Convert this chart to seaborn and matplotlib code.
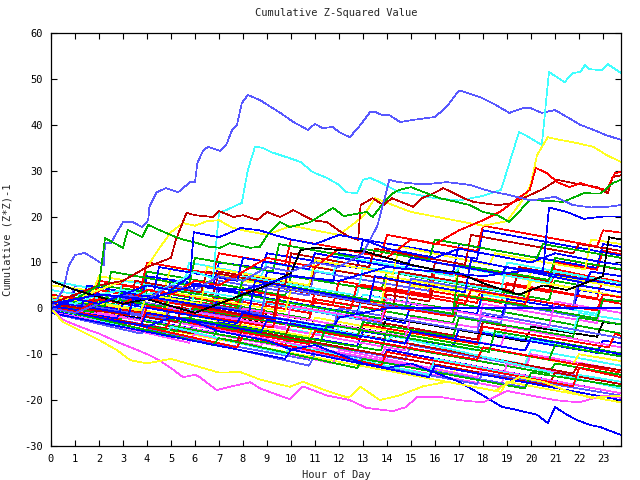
import numpy as np
import pandas as pd
import matplotlib
matplotlib.use("Agg")
import matplotlib.pyplot as plt
import seaborn as sns

# ---------------- data ----------------
title = "Cumulative Z-Squared Value"
xlabel = "Hour of Day"
ylabel = "Cumulative (Z*Z)-1"
xticks = list(range(24))
yticks = [-30, -20, -10, 0, 10, 20, 30, 40, 50, 60]

# bulk series: (hour, value) knots read/
red_series = [
    [(0,0.5),(2.75,-1.8),(3,1.5),(6.5,-1.8),(6.75,2.5),(10.75,-1),(11,3.5),(14.75,0.2),(15,4.5),(18.75,1.2),(19,5.5),(22.75,2.2),(23,6.5),(23.75,5.8)],
    [(0,0),(1,1.5),(5.75,-2.7),(6,1.5),(10.75,-2.5),(11,2),(13.75,-0.3),(14,4.5),(17.75,1.2),(18,6),(20.75,3.6),(21,8.5),(23.75,5.6)],
    [(0,-1),(2.75,-3.2),(3,-1),(7.75,-5.3),(8,-2),(12.75,-6.2),(13,-3.5),(17.75,-7.8),(18,-4),(23.25,-8.5),(23.5,-5.5),(23.75,-6)],
    [(0,2),(2.75,1.8),(3,5),(7.75,0.8),(8,4),(11.75,0.7),(12,6),(15.75,2.6),(16,8),(20.75,3.5),(21,10),(22.75,8.4),(23,12.5),(23.75,11.8)],
    [(0,0),(4.75,-4.4),(5,-2.5),(10.75,-7.8),(11,-5),(17.75,-11.2),(18,-8.5),(23.75,-14)],
    [(0,1),(1.75,-0.6),(2,4),(8.75,-2.3),(9,1.5),(13.75,-2.8),(14,0.5),(16.75,-1.8),(17,3),(19.75,0.8),(20,4.5),(23.75,1)],
    [(0,-0.5),(3.75,-3.8),(4,0.5),(9.25,-4.2),(9.5,2.5),(12.5,0),(12.75,5),(17.25,1),(17.5,4),(22.75,-0.5),(23,3),(23.75,2.4)],
    [(0,3),(1.75,1.5),(2,6),(3.75,4.5),(4,10),(6.75,7.5),(7,12),(9.75,9.5),(10,15),(13.75,11.5),(14,16),(17.75,12.5),(18,18),(22.75,13.5),(23,17),(23.75,16.5)],
    [(0,0.5),(7.75,-8.5),(8,-6),(13.75,-12.5),(14,-9.5),(21.75,-17),(22,-13),(23.75,-15)],
]
darkred_series = [
    [(0,0),(1,1),(3.75,-1.3),(4,3),(11.75,-4.3),(12,-1.5),(17.75,-6.8),(18,-3),(23.75,-8.5)],
    [(0,2),(4.75,-2.2),(5,0.5),(8.75,-2.7),(9,2),(13.75,-2.2),(14,3),(15.75,1.5),(16,5.5),(21.75,0.3),(22,4),(23.75,2.5)],
    [(0,-1),(1.75,-2.5),(2,1),(9.75,-6.2),(10,-3),(21.75,-14.2),(22,-12),(23.75,-13.5)],
    [(0,1),(0.75,0.5),(1,3),(2.75,1.8),(3,6),(6.75,2.8),(7,8),(10.75,4.8),(11,9),(15.75,4.8),(16,10),(20.75,5.8),(21,11),(23.75,8.4)],
    [(0,0),(7.75,-7.2),(8,-4.5),(20.75,-16.8),(21,-14),(23.75,-16.5)],
    [(0,1.5),(5.25,-3),(5.5,1),(9.25,-2.5),(9.5,4.5),(14.25,0),(14.5,8),(19.25,3.8),(19.5,9),(23.75,5)],
    [(0,1),(3.25,-1.5),(3.5,6),(6.25,3.5),(6.5,8),(9.75,5),(10,12),(13.25,9),(13.5,13),(17.25,9.5),(17.5,16),(21.75,12),(22,14),(23.75,12.5)],
]
green_series = [
    [(0,1),(1,2),(3.75,-0.2),(4,4),(10.75,-2.3),(11,2),(16.75,-3.2),(17,1),(23.75,-5.5)],
    [(0,0),(6.75,-6.3),(7,-4),(12.75,-9.2),(13,-7),(20.75,-14.2),(21,-12),(23.75,-14.5)],
    [(0,2),(1.75,0.8),(2,5),(3.75,3.8),(4,8),(9.75,2.8),(10,7),(13.75,3.8),(14,8),(20.75,1.8),(21,6),(23.75,3.5)],
    [(0,-1),(2.75,-3.2),(3,-2),(9.75,-8.2),(10,-6),(13.75,-9.2),(14,-5),(20.75,-11.2),(21,-8),(23.75,-10.5)],
    [(0,0),(1,1),(5.75,-3.2),(6,0),(12.75,-6.2),(13,-3),(16.75,-6.2),(17,-2),(21.75,-6.2),(22,-2),(23.75,-3.5)],
    [(0,3),(2.75,0.8),(3,4),(7.75,-0.2),(8,3),(13.75,-2.2),(14,2),(16.75,-0.2),(17,3),(22.75,-2.2),(23,2),(23.75,1.5)],
    [(0,0.5),(1.75,-0.8),(2,2.5),(4.75,0.3),(5,4),(7.75,1.8),(8,6.5),(16.75,-1.2),(17,9.5),(20.75,6.2),(21,11),(23.75,8.5)],
    [(0,-0.5),(5.25,-5),(5.5,-2),(11.25,-7),(11.5,-3.5),(18.25,-9.5),(18.5,-5),(23.75,-9.8)],
    [(0,2),(2.25,0.5),(2.5,8),(5.75,5),(6,11),(9.25,8),(9.5,14),(12.75,11),(13,13),(15.75,10.5),(16,15),(20.25,11),(20.5,14),(23.75,11)],
    [(0,0),(6.75,-8),(7,-6.5),(12.75,-13),(13,-11),(19.75,-17.5),(20,-14),(23.75,-17)],
]
blue_series = [
    [(0,0),(0.75,-0.5),(1,3),(4.75,-0.2),(5,6),(8.75,2.8),(9,8),(11.75,5.8),(12,12),(16.75,7.8),(17,14),(22.75,8.8),(23,14),(23.75,13.4)],
    [(0,1),(6.75,-5.2),(7,-3),(12.75,-8.2),(13,-5),(16.75,-8.2),(17,-4.5),(22.75,-9.7),(23,-7),(23.75,-7.6)],
    [(0,-1),(1.75,-2.2),(2,-1),(13.75,-12.2),(14,-9),(23.75,-18.5)],
    [(0,2),(2.75,-0.2),(3,4),(5.75,1.8),(6,5),(12.75,-1.2),(13,3),(18.75,-2.2),(19,2),(21.75,-0.2),(22,4),(23.75,2.5)],
    [(0,0),(1.75,-1.2),(2,2),(6.75,-2.2),(7,4),(14.75,-3.2),(15,1),(17.75,-1.2),(18,3.5),(21.75,0.3),(22,5),(23.75,3.5)],
    [(0,1),(0.75,0.5),(1,4),(3.75,1.8),(4,7),(6.75,4.8),(7,10),(8.75,8.8),(9,12),(12.75,8.8),(13,15),(17.75,10.8),(18,17),(23.75,11.5)],
    [(0,0),(2.75,-2.2),(3,1),(7.75,-3.2),(8,-1),(11.75,-4.2),(12,-2),(13,-1),(14,0),(23.75,0)],
    [(0,-0.5),(3.75,-3.7),(4,-1),(8.75,-5.2),(9,-2.5),(14.75,-7.7),(15,-5),(19.75,-9.2),(20,-6.5),(23.75,-10)],
    [(0,1.5),(3.25,-1.2),(3.5,3),(8.25,-1),(8.5,6),(13.25,1.5),(13.5,7),(17.25,3.5),(17.5,10.5),(22.25,5.5),(22.5,8),(23.75,7)],
    [(0,0.5),(1.25,-0.5),(1.5,5),(4.25,2.5),(4.5,9),(7.75,6),(8,11),(10.75,8.5),(11,12),(14.75,8.5),(15,11),(18.75,7.5),(19,9),(23.75,5)],
    [(0,-1),(9.75,-11),(10,-9),(15.75,-15),(16,-12.5),(23.75,-20)],
]
slate_series = [
    [(0,0),(5.75,-5.2),(6,-3),(14.75,-11.2),(15,-8),(23.75,-16.5)],
    [(0,1),(1.75,-0.2),(2,3),(7.75,-2.2),(8,2),(13.75,-3.2),(14,1),(18.75,-3.2),(19,1),(23.75,-3.5)],
    [(0,2),(0.75,1.5),(1,5),(6.75,-0.2),(7,6),(10.75,2.8),(11,8),(15.75,3.8),(16,10),(23.75,2.5)],
    [(0,-1),(10.75,-11.2),(11,-9),(19.75,-17.2),(20,-15),(23.75,-18.5)],
    [(0,0),(1,1),(4.75,-2.2),(5,2),(11.75,-4.2),(12,0),(17.75,-5.2),(18,-1),(23.75,-6.5)],
    [(0,1.5),(3.75,-1.7),(4,3),(8.75,-1.2),(9,5),(14.75,-0.2),(15,6.5),(21.75,0.3),(22,7),(23.75,5.5)],
    [(0,-1),(3.75,-5.5),(4,-4.5),(10.75,-12.5),(11,-10),(17.75,-16.5),(18,-14),(23.75,-19)],
]
magenta_series = [
    [(0,0),(8.75,-8.2),(9,-6),(13.75,-10.2),(14,-8),(19.75,-13.2),(20,-10),(23.75,-13.5)],
    [(0,-1),(2.75,-3.2),(3,-2),(6.75,-5.2),(7,-2),(14.75,-9.2),(15,-5),(18.75,-8.2),(19,-4),(23.75,-8.5)],
    [(0,1),(18.75,-17.2),(19,-12),(23.75,-16.5)],
    [(0,0),(1.75,-1.2),(2,2),(7.75,-3.2),(8,0),(14.75,-6.2),(15,-2),(17.75,-4.2),(18,1),(22.75,-3.2),(23,2),(23.75,1.5)],
    [(0,2),(15.75,-13.2),(16,-11),(23.75,-18.5)],
    [(0,0.5),(3.75,-2.7),(4,1),(9.75,-4.2),(10,0.5),(13.75,-2.7),(14,2),(20.75,-4.2),(21,1.5),(23.75,-1)],
    [(0,-0.5),(5.75,-7.5),(6,-5.5),(11.75,-12),(12,-9),(17.75,-15),(18,-13),(23.75,-18.5)],
]
cyan_series = [
    [(0,1),(4.75,-3.2),(5,0),(11.75,-6.2),(12,-4),(17.75,-9.2),(18,-5),(23.75,-10.5)],
    [(0,0),(1,2),(9.75,-6.2),(10,-3),(19.75,-12.2),(20,-9),(23.75,-12.5)],
    [(0,2),(2.75,-0.2),(3,3),(8.75,-2.2),(9,2),(14.75,-3.2),(15,1),(17.75,-1.2),(18,3),(22.75,-1.2),(23,2),(23.75,1.5)],
    [(0,6),(6,0.2),(6.25,1),(14,-7),(14.25,-6),(23.75,-17.5)],
    [(0,0),(2.75,-2.2),(3,1),(5.75,-1.2),(6,4),(12.75,-2.2),(13,3),(21.75,-5.2),(22,-1),(23.75,-2.5)],
    [(0,3),(3.75,-0.2),(4,5),(7.75,1.8),(8,7),(12.75,2.8),(13,9),(18.75,3.8),(19,10),(23.75,5.5)],
    [(0,4),(2.75,1.5),(3,6),(5.5,4),(5.75,10),(8.75,7),(9,10),(11.75,7.5),(12,11.5),(16.75,7),(17,9),(20.75,5.5),(21,8),(23.75,5.5)],
    [(0,0),(4.75,-6),(5,-4),(9.75,-10),(10,-8),(15.75,-14.5),(16,-11),(21.75,-17),(22,-14.5),(23.75,-16)],
]
yellow_series = [
    [(0,2),(16.75,-14.2),(17,-12),(23.75,-18.5)],
    [(0,0),(1,3),(10.75,-6.2),(11,-2),(21.75,-12.2),(22,-10),(23.75,-11.5)],
    [(0,1),(2.75,-1.2),(3,5),(7.75,0.8),(8,6),(14.75,-0.2),(15,5),(19.75,0.8),(20,6),(23.75,2.5)],
    [(0,5),(1.75,3.8),(2,7),(4.75,4.8),(5,9),(9.75,4.8),(10,10),(16.75,3.8),(17,9),(23.75,2.5)],
    [(0,0),(18.75,-18.2),(19,-16),(23.75,-20.5)],
    [(0,-0.5),(0.75,-1),(1,2),(4.75,-1.2),(5,3.5),(9.75,-0.7),(10,4),(13.75,0.8),(14,7),(19.75,1.8),(20,8),(23.75,4.5)],
    [(0,2.5),(3.75,-0.5),(4,3),(6.25,1),(6.5,9),(10.75,5),(11,10.5),(14.25,7.5),(14.5,13.5),(18.25,9.5),(18.5,12),(22.25,8.5),(22.5,15),(23.75,14)],
]
black_series = [
    [(0,1),(3.75,-2.2),(4,1),(8.75,-3.2),(9,-1),(13.75,-5.2),(14,-2),(19.75,-7.2),(20,-4),(22.75,-6.2),(23,-3),(23.75,-3.5)],
]

# prominent series read at finer resolution
slate_peak_x = [0, 0.5, 0.75, 1, 1.4, 1.9, 2.2, 2.25, 2.5, 2.75, 3, 3.4, 3.8, 4.05, 4.1, 4.4, 4.8, 5.3, 5.5, 5.8, 6.0, 6.1, 6.35, 6.55, 7.05, 7.3, 7.55, 7.75, 7.95, 8.2, 8.7, 9.55, 10.1, 10.7, 11.0, 11.3, 11.75, 12.0, 12.45, 12.9, 13.3, 13.5, 13.8, 14.1, 14.55, 15, 16, 16.5, 17, 17.3, 17.9, 18.4, 18.9, 19.1, 19.7, 19.95, 20.45, 21, 21.5, 22.05, 22.6, 23.1, 23.75]
slate_peak_y = [0, 4, 9.4, 11.6, 12.1, 10.5, 9.4, 14.2, 14.2, 16.6, 18.8, 18.8, 17.7, 19.2, 22.1, 25.3, 26.2, 25.3, 26.2, 27.5, 27.5, 31.7, 34.5, 35.2, 34.3, 35.6, 38.9, 40, 44.7, 46.5, 45.4, 42.6, 40.6, 38.9, 40.2, 39.3, 39.5, 38.4, 37.3, 40, 42.8, 42.8, 42.1, 42.1, 40.6, 41, 41.7, 44, 47.5, 47, 46, 44.7, 43.2, 42.6, 43.7, 43.7, 42.6, 43.2, 41.7, 40, 38.9, 37.8, 36.7]

cyan_jump_x = [0, 1, 2, 3, 4, 5, 6, 6.75, 7.0, 7.3, 7.95, 8.2, 8.5, 8.8, 9.2, 9.9, 10.4, 10.9, 11.5, 12.0, 12.3, 12.75, 13.0, 13.3, 13.7, 14.5, 15, 16, 17, 18, 18.75, 19.5, 19.75, 20.45, 20.75, 21.4, 21.75, 22.05, 22.25, 22.45, 22.95, 23.2, 23.75]
cyan_jump_y = [2, 1, 3, 4, 3, 5, 8, 6.5, 20.8, 21.4, 23, 30.1, 35.2, 35, 34, 32.8, 31.9, 29.7, 28.4, 26.9, 25.3, 25.1, 28, 28.4, 27.5, 25.3, 25, 24, 23.5, 24.5, 25.8, 38.4, 37.8, 35.6, 51.5, 49.3, 51.3, 51.5, 53, 52.1, 51.9, 53.2, 51.3]

yellow_top_x = [0, 1, 2, 3, 4, 4.5, 5, 5.5, 6, 6.5, 7, 7.5, 8, 9, 10, 11, 12, 13, 13.5, 14, 15, 16, 17, 18, 19, 19.8, 20.0, 20.25, 20.7, 21.2, 21.75, 22.6, 23.15, 23.75]
yellow_top_y = [1, 2, 4, 6, 9, 13, 16.6, 18.6, 18, 19, 19.2, 17.7, 17, 16, 18, 17, 16, 20, 24, 23, 21, 20, 19, 18, 19, 24.7, 27.3, 33.4, 37.3, 36.7, 36.2, 35.2, 33.4, 31.9]

darkred_top_x = [0, 1, 2, 3, 4, 5, 5.2, 5.65, 6, 6.75, 7.0, 7.6, 8.0, 8.6, 9.0, 9.55, 10.1, 10.5, 10.9, 11.5, 11.95, 12.45, 12.8, 12.9, 13.4, 13.85, 14.2, 15.1, 15.45, 15.8, 16.35, 17.2, 17.6, 18.6, 19.1, 19.8, 20.5, 21.1, 21.75, 22.75, 23.2, 23.4, 23.75]
darkred_top_y = [1, 3, 5, 6, 9, 11, 14.9, 20.8, 20.3, 19.9, 21.2, 19.9, 20.3, 19.3, 21, 19.9, 21.4, 20.3, 19.2, 18.8, 17.1, 15.5, 14.9, 22.5, 24, 22.5, 24, 22.1, 24, 24.7, 26.2, 24, 23.2, 22.5, 22.8, 24.3, 26, 28, 27.3, 26.4, 25.1, 28.6, 29]

red_top_x = [0, 1, 2, 3, 4, 5, 6, 7, 8, 9, 10, 11, 12, 13, 14, 15, 16, 17, 18, 18.7, 19.95, 20.2, 20.65, 21.1, 21.6, 22.05, 22.6, 23.15, 23.5, 23.75]
red_top_y = [0, -1, 2, 1, 4, 3, 6, 5, 8, 11, 10, 9, 13, 12, 11, 15, 14, 17, 19.2, 21, 25.8, 30.6, 29.5, 27.5, 26.4, 27.3, 26.4, 25.8, 29.5, 29.7]

green_top_x = [0, 1, 2, 2.25, 3, 3.2, 3.8, 4.05, 4.5, 5.3, 6.1, 6.6, 7.05, 7.45, 8.3, 8.7, 9.1, 9.55, 9.95, 10.8, 11.75, 12.2, 13.15, 13.4, 13.85, 14.25, 14.5, 15, 16.2, 16.9, 17.45, 18, 18.6, 19.1, 19.95, 20.7, 21.35, 22.2, 22.9, 23.4, 23.75]
green_top_y = [1, 2, 5, 15.3, 13.2, 17.1, 15.5, 18.2, 17.1, 15.3, 14.2, 13.4, 13.2, 14.2, 13.2, 13.4, 16.6, 18.8, 17.7, 18.8, 21.9, 20.1, 21, 19.9, 23, 25.1, 25.8, 26.4, 24, 23.2, 22.5, 21, 20.3, 18.8, 23.6, 23.4, 23.2, 25.1, 25, 27.3, 28]

blue_low_x = [0, 1, 2, 3, 4, 5, 6, 7, 8, 9, 10, 11, 12, 13, 14, 15, 16, 17, 18, 18.8, 19.3, 20.25, 20.7, 21, 21.5, 21.9, 22.45, 22.9, 23.2, 23.75]
blue_low_y = [0, -1, -2, -3, -4, -2, -3, -5, -6, -7, -9, -8, -10, -12, -13, -12, -14, -16, -19, -21.5, -22, -23.2, -25, -21.5, -23.2, -24.3, -25.4, -25.9, -26.5, -27.6]

magenta_low_x = [0, 0.5, 1.35, 2, 2.75, 3.6, 4.1, 4.5, 5.1, 5.5, 6.0, 6.2, 6.9, 7.45, 8.3, 8.7, 9.25, 9.95, 10.5, 11, 11.5, 12.45, 13.15, 14.25, 14.8, 15.25, 16.2, 17, 18, 19, 20, 21, 22, 23, 23.75]
magenta_low_y = [0, -2.5, -4.3, -5.5, -7.3, -9.1, -10.2, -11.3, -13.4, -15, -14.5, -15, -17.8, -17.1, -16.1, -17.4, -18.5, -19.8, -17, -18, -19, -20, -21.7, -22.4, -21.5, -19.3, -19.3, -20, -20.5, -18, -19, -20, -20.5, -19, -19.5]

black_mid_x = [0, 1, 2, 3, 4, 5, 6, 7, 8, 9, 10, 10.4, 11, 12, 13, 14, 15, 16, 17, 18, 18.6, 19.5, 20.5, 21.5, 22.5, 23, 23.25, 23.75]
black_mid_y = [6, 4, 2.5, 1, 2, 0.5, -1, 1, 3, 5, 7.7, 12.7, 13.2, 12.7, 12.5, 11, 9.5, 8.4, 7.7, 5.5, 4.4, 3, 5, 4, 6, 7, 15.5, 15]

yellow_low_x = [0, 0.5, 2, 2.75, 3.3, 4, 5, 6, 7, 7.9, 8.7, 9.95, 10.5, 11.5, 12.4, 12.9, 13.7, 14.5, 15.5, 16.5, 17.5, 18.5, 19.5, 20.5, 21.5, 22.5, 23.75]
yellow_low_y = [0, -3, -6.9, -9.1, -11.3, -12, -11, -12.5, -14, -13.9, -15.5, -17.1, -16, -18, -19.5, -17.1, -20, -19, -17, -16, -17, -18, -15, -16, -18, -19.5, -19]

slate_mid_x = [0, 1, 2, 3, 4, 5, 6, 7, 8, 9, 10, 11, 12, 13, 13.6, 14.1, 14.5, 15.5, 16.5, 17.45, 18.3, 19.1, 20, 21, 21.75, 22.5, 23.15, 23.75]
slate_mid_y = [0, -1, 1, 3, 2, 5, 4, 7, 6, 9, 8, 10, 9, 12, 18, 28, 27.5, 27, 27.5, 26.9, 25.5, 24.7, 23.5, 24.3, 22.5, 22, 22.1, 22.5]

blue_jump_x = [0, 2, 4, 6, 8, 10, 12, 14, 16, 18, 20, 20.5, 20.75, 21.5, 22.2, 23, 23.75]
blue_jump_y = [1, 3, 2, 5, 4, 7, 6, 9, 8, 7, 8.4, 8, 22, 21, 19.5, 20, 20]

blue_upper_x = [0, 1, 2, 3, 4, 5, 5.8, 5.95, 6.5, 7, 7.9, 8.7, 9.3, 10, 11, 12, 13, 14, 15, 16, 17, 18, 19, 20, 21, 22, 23, 23.75]
blue_upper_y = [0, 2, 1, 3, 5, 4, 7, 16.6, 16, 15.5, 17.5, 17, 16, 15, 14, 16, 15, 13, 12, 11, 13, 12, 11, 10, 12, 11, 10, 9.5]

# ---------------- colours ----------------
colors = {
    "red": "#ff0000", "darkred": "#c00000", "green": "#00b000", "blue": "#0000ff",
    "slate": "#5858ff", "magenta": "#ff50ff", "cyan": "#40ffff", "yellow": "#ffff20",
    "black": "#000000",
}

rows = []
palette = {}
order = []


def add(name, color, xs, ys):
    for x, y in zip(xs, ys):
        rows.append({"series": name, "hour": x, "value": y})
    palette[name] = colors[color]
    order.append(name)


groups = [
    ("red", red_series), ("green", green_series), ("blue", blue_series),
    ("magenta", magenta_series), ("cyan", cyan_series), ("yellow", yellow_series),
    ("darkred", darkred_series), ("slate", slate_series), ("black", black_series),
]
n_max = max(len(s) for _, s in groups)
for i in range(n_max):
    for cname, ser in groups:
        if i < len(ser):
            pts = ser[i]
            add(f"{cname}{i}", cname, [p[0] for p in pts], [p[1] for p in pts])

add("slate_peak", "slate", slate_peak_x, slate_peak_y)
add("cyan_jump", "cyan", cyan_jump_x, cyan_jump_y)
add("yellow_top", "yellow", yellow_top_x, yellow_top_y)
add("darkred_top", "darkred", darkred_top_x, darkred_top_y)
add("red_top", "red", red_top_x, red_top_y)
add("green_top", "green", green_top_x, green_top_y)
add("blue_low", "blue", blue_low_x, blue_low_y)
add("magenta_low", "magenta", magenta_low_x, magenta_low_y)
add("black_mid", "black", black_mid_x, black_mid_y)
add("yellow_low", "yellow", yellow_low_x, yellow_low_y)
add("slate_mid", "slate", slate_mid_x, slate_mid_y)
add("blue_jump", "blue", blue_jump_x, blue_jump_y)
add("blue_upper", "blue", blue_upper_x, blue_upper_y)

df = pd.DataFrame(rows)

# ---------------- plot ----------------
sns.set_style("white")
plt.rcParams["font.family"] = ["DejaVu Sans Mono", "DejaVu Sans"]
plt.rcParams["font.size"] = 7.5

fig = plt.figure(figsize=(6.4, 4.8), dpi=100)
ax = fig.add_axes([51 / 640, 1 - 446 / 480, 570 / 640, 413 / 480])

sns.lineplot(data=df, x="hour", y="value", hue="series", hue_order=order,
             palette=palette, estimator=None, sort=False, legend=False,
             linewidth=0.5, antialiased=False, ax=ax)

ax.set_xlim(0, 23.75)
ax.set_ylim(-30, 60)
ax.set_xticks(xticks)
ax.set_xticklabels([str(t) for t in xticks])
ax.set_yticks(yticks)
ax.set_yticklabels([str(t) for t in yticks])
ax.tick_params(direction="in", length=4, width=0.8, top=True, right=True,
               bottom=True, left=True, colors="black", labelsize=7.5, pad=6)
for sp in ax.spines.values():
    sp.set_linewidth(0.9)
    sp.set_color("black")
    sp.set_visible(True)

ax.set_title(title, fontsize=7.5, pad=12)
ax.set_xlabel(xlabel, fontsize=7.5, labelpad=4)
ax.set_ylabel(ylabel, fontsize=7.5, labelpad=8)

fig.savefig("out.png", dpi=100)
